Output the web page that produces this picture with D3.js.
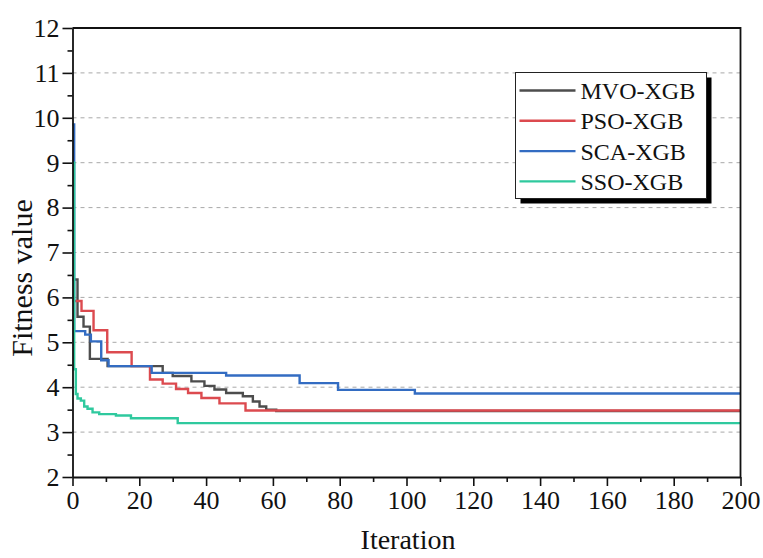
<!DOCTYPE html>
<html>
<head>
<meta charset="utf-8">
<script src="https://cdn.jsdelivr.net/npm/d3@7"></script>
<style>
  html, body { margin: 0; padding: 0; background: #fff; }
  svg { display: block; }
  text { font-family: "Liberation Serif", "Times New Roman", serif; fill: #111; }
</style>
</head>
<body>
<svg id="chart" width="763" height="558"></svg>
<script>
// Convergence curves: [iteration, fitness] break points of each step curve
const seriesNames = ["MVO-XGB", "PSO-XGB", "SCA-XGB", "SSO-XGB"];
const seriesColors = ["#4d4d4d", "#dc4a4f", "#336cc2", "#2fc99e"];

const mvo = [[0, 6.4], [1.5, 5.57], [3.3, 5.35], [5.2, 4.63], [10.5, 4.47], [27, 4.32], [30, 4.25],
  [35.6, 4.13], [39.5, 4.03], [42.5, 3.95], [46, 3.87], [51, 3.8], [54, 3.68], [56, 3.57],
  [58, 3.5], [61, 3.47], [200, 3.47]];
const pso = [[0, 5.92], [2.7, 5.7], [6.3, 5.27], [10.4, 4.78], [17.7, 4.47], [23.2, 4.17],
  [27, 4.08], [31, 3.96], [34.6, 3.87], [38.6, 3.76], [44, 3.64], [51.8, 3.48], [200, 3.48]];
const sca = [[0, 9.85], [0.5, 5.25], [3.8, 5.17], [5.5, 5.02], [8.6, 4.6], [10.8, 4.47],
  [23.7, 4.32], [46, 4.26], [68, 4.09], [79.5, 3.94], [102.5, 3.86], [200, 3.86]];
const sso = [[0, 9.0], [0.5, 4.4], [1, 3.85], [1.5, 3.75], [2.5, 3.7], [3.5, 3.57], [4.5, 3.52],
  [6, 3.44], [8, 3.4], [13, 3.37], [17.5, 3.31], [31.5, 3.2], [200, 3.2]];
const seriesValues = [mvo, pso, sca, sso];

const xTicks = [0, 20, 40, 60, 80, 100, 120, 140, 160, 180, 200];
const yTicks = [2, 3, 4, 5, 6, 7, 8, 9, 10, 11, 12];
const gridValues = [3, 4, 5, 6, 7, 8, 9, 10, 11];

const svg = d3.select("#chart");
const plot = { left: 72.5, right: 740.5, top: 28, bottom: 477 };

const x = d3.scaleLinear().domain([0, 200]).range([plot.left, plot.right]);
const y = d3.scaleLinear().domain([2, 12]).range([plot.bottom, plot.top]);

// dashed horizontal grid
svg.append("g")
  .selectAll("line")
  .data(gridValues)
  .join("line")
  .attr("x1", plot.left).attr("x2", plot.right)
  .attr("y1", d => y(d)).attr("y2", d => y(d))
  .attr("stroke", "#a8a8a8")
  .attr("stroke-width", 1)
  .attr("stroke-dasharray", "4,4");

// convergence curves
const line = d3.line()
  .x(d => x(d[0]))
  .y(d => y(d[1]))
  .curve(d3.curveStepAfter);

svg.append("g")
  .selectAll("path")
  .data(seriesValues)
  .join("path")
  .attr("d", d => line(d))
  .attr("fill", "none")
  .attr("stroke", (d, i) => seriesColors[i])
  .attr("stroke-width", 2.4);

// frame (top and right sides)
svg.append("path")
  .attr("d", `M${plot.left},${plot.top}H${plot.right}V${plot.bottom}`)
  .attr("fill", "none")
  .attr("stroke", "#111")
  .attr("stroke-width", 1.8);

// x axis: major and minor ticks
const xMinor = d3.range(10, 200, 20);
svg.append("g")
  .attr("transform", `translate(0,${plot.bottom})`)
  .call(d3.axisBottom(x).tickValues(xMinor).tickSize(5).tickFormat("").tickSizeOuter(0))
  .call(g => g.select(".domain").remove())
  .call(g => g.selectAll("line").attr("stroke", "#111").attr("stroke-width", 1.6));

const xAxis = svg.append("g")
  .attr("transform", `translate(0,${plot.bottom})`)
  .call(d3.axisBottom(x).tickValues(xTicks).tickSize(9).tickPadding(5).tickSizeOuter(0));
xAxis.select(".domain").attr("stroke", "#111").attr("stroke-width", 1.8);
xAxis.selectAll("line").attr("stroke", "#111").attr("stroke-width", 1.6);
xAxis.selectAll("text")
  .style("font-family", "'Liberation Serif', serif")
  .style("font-size", "26px")
  .attr("fill", "#111");

// y axis: major and minor ticks
const yMinor = d3.range(2.5, 12, 1);
svg.append("g")
  .attr("transform", `translate(${plot.left},0)`)
  .call(d3.axisLeft(y).tickValues(yMinor).tickSize(5).tickFormat("").tickSizeOuter(0))
  .call(g => g.select(".domain").remove())
  .call(g => g.selectAll("line").attr("stroke", "#111").attr("stroke-width", 1.6));

const yAxis = svg.append("g")
  .attr("transform", `translate(${plot.left},0)`)
  .call(d3.axisLeft(y).tickValues(yTicks).tickSize(10).tickPadding(3).tickSizeOuter(0));
yAxis.select(".domain").attr("stroke", "#111").attr("stroke-width", 1.8);
yAxis.selectAll("line").attr("stroke", "#111").attr("stroke-width", 1.6);
yAxis.selectAll("text")
  .style("font-family", "'Liberation Serif', serif")
  .style("font-size", "26px")
  .attr("fill", "#111");

// axis titles
svg.append("text")
  .attr("x", 408)
  .attr("y", 549)
  .attr("text-anchor", "middle")
  .style("font-size", "28px")
  .text("Iteration");

svg.append("text")
  .attr("transform", "translate(32,278) rotate(-90)")
  .attr("text-anchor", "middle")
  .style("font-size", "30px")
  .text("Fitness value");

// legend with drop shadow
const lg = { x: 515.5, y: 72.5, w: 191, h: 126 };
const legend = svg.append("g");
legend.append("rect")
  .attr("x", lg.x + 5).attr("y", lg.y + 5)
  .attr("width", lg.w).attr("height", lg.h)
  .attr("fill", "#000");
legend.append("rect")
  .attr("x", lg.x).attr("y", lg.y)
  .attr("width", lg.w).attr("height", lg.h)
  .attr("fill", "#fff")
  .attr("stroke", "#222")
  .attr("stroke-width", 1);

const items = legend.selectAll("g.item")
  .data(seriesNames)
  .join("g")
  .attr("class", "item")
  .attr("transform", (d, i) => `translate(${lg.x},${lg.y + 18 + i * 30.3})`);
items.append("line")
  .attr("x1", 4).attr("x2", 60)
  .attr("stroke", (d, i) => seriesColors[i])
  .attr("stroke-width", 2.4);
items.append("text")
  .attr("x", 65)
  .attr("dy", "0.35em")
  .style("font-size", "24px")
  .text(d => d);
</script>
</body>
</html>
